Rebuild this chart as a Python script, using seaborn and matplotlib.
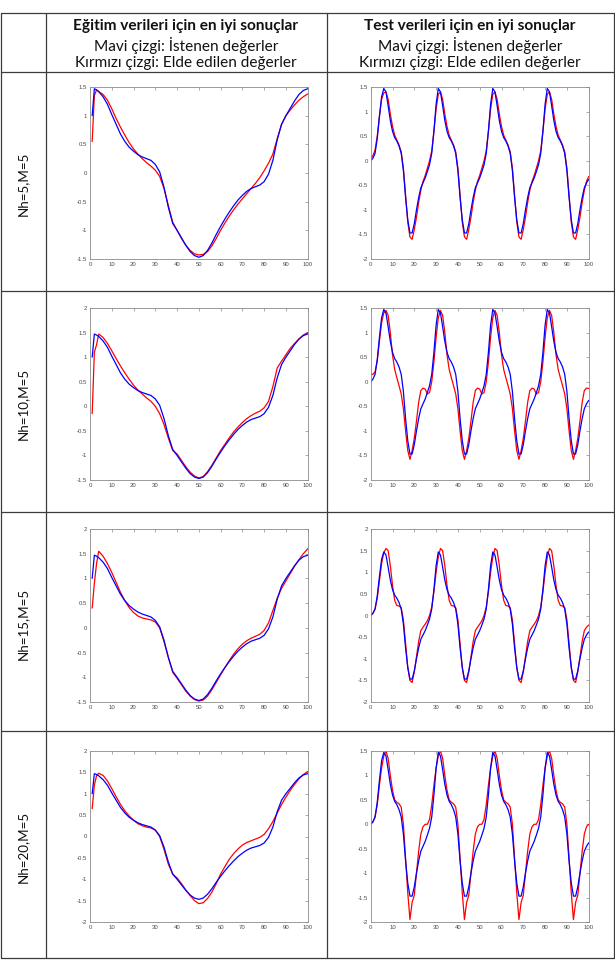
import matplotlib
matplotlib.use("Agg")
import matplotlib.pyplot as plt
from matplotlib.lines import Line2D
from matplotlib.ticker import MultipleLocator, FuncFormatter
import seaborn as sns

sns.set_style("white")
plt.rcParams['font.family'] = ['Lato', 'DejaVu Sans']

# ---------------- data ----------------
HEADER_LEFT = ["Eğitim verileri için en iyi sonuçlar",
               "Mavi çizgi: İstenen değerler",
               "Kırmızı çizgi: Elde edilen değerler"]
HEADER_RIGHT = ["Test verileri için en iyi sonuçlar",
                "Mavi çizgi: İstenen değerler",
                "Kırmızı çizgi: Elde edilen değerler"]
ROW_LABELS = ["Nh=5,M=5", "Nh=10,M=5", "Nh=15,M=5", "Nh=20,M=5"]

TRAIN_X = [1, 2, 3, 4, 6, 8, 10, 12, 14, 16, 18, 20, 22, 24, 26, 28, 30, 32, 34, 36,
           38, 40, 42, 44, 46, 48, 50, 52, 54, 56, 58, 60, 62, 64, 66, 68, 70, 72, 74,
           76, 78, 80, 82, 84, 86, 88, 90, 92, 94, 96, 98, 100]

TRAIN_TARGET = [1.0, 1.47, 1.45, 1.42, 1.33, 1.2, 1.02, 0.85, 0.68, 0.55, 0.45, 0.38,
                0.32, 0.28, 0.25, 0.22, 0.15, 0.02, -0.25, -0.6, -0.88, -1.0, -1.13,
                -1.26, -1.37, -1.44, -1.47, -1.44, -1.35, -1.22, -1.07, -0.93, -0.8,
                -0.68, -0.57, -0.47, -0.39, -0.32, -0.27, -0.24, -0.21, -0.15, -0.02,
                0.22, 0.58, 0.85, 1.0, 1.13, 1.26, 1.37, 1.44, 1.47]

TRAIN_N5 = [0.55, 1.35, 1.45, 1.42, 1.37, 1.27, 1.12, 0.95, 0.8, 0.66, 0.53, 0.42,
            0.33, 0.25, 0.18, 0.12, 0.05, -0.06, -0.27, -0.57, -0.86, -1.0, -1.14,
            -1.26, -1.35, -1.41, -1.43, -1.42, -1.37, -1.27, -1.14, -1.0, -0.87,
            -0.75, -0.64, -0.54, -0.45, -0.36, -0.27, -0.18, -0.08, 0.04, 0.17,
            0.33, 0.6, 0.85, 1.0, 1.1, 1.19, 1.27, 1.33, 1.38]

TRAIN_N10 = [-0.15, 1.1, 1.25, 1.47, 1.4, 1.28, 1.13, 0.97, 0.82, 0.68, 0.55, 0.43,
             0.33, 0.25, 0.17, 0.1, 0.0, -0.15, -0.37, -0.65, -0.9, -0.97, -1.1,
             -1.23, -1.34, -1.42, -1.46, -1.43, -1.33, -1.2, -1.05, -0.9, -0.77,
             -0.64, -0.52, -0.42, -0.33, -0.25, -0.19, -0.14, -0.1, -0.03, 0.1,
             0.4, 0.78, 0.92, 1.05, 1.18, 1.28, 1.37, 1.45, 1.5]

TRAIN_N15 = [0.4, 0.9, 1.3, 1.55, 1.45, 1.3, 1.12, 0.92, 0.72, 0.55, 0.41, 0.31,
             0.24, 0.2, 0.18, 0.16, 0.12, 0.0, -0.28, -0.6, -0.9, -1.02, -1.15,
             -1.28, -1.38, -1.45, -1.48, -1.46, -1.38, -1.25, -1.1, -0.95, -0.8,
             -0.66, -0.53, -0.42, -0.33, -0.26, -0.21, -0.17, -0.13, -0.05, 0.1,
             0.35, 0.6, 0.8, 0.95, 1.1, 1.25, 1.38, 1.5, 1.6]

TRAIN_N20 = [0.65, 1.2, 1.42, 1.48, 1.43, 1.3, 1.12, 0.93, 0.75, 0.6, 0.48, 0.38,
             0.3, 0.25, 0.22, 0.2, 0.15, 0.0, -0.3, -0.65, -0.88, -0.97, -1.1,
             -1.25, -1.38, -1.5, -1.57, -1.55, -1.45, -1.3, -1.1, -0.88, -0.7,
             -0.53, -0.4, -0.29, -0.2, -0.14, -0.1, -0.06, -0.02, 0.05, 0.18,
             0.35, 0.55, 0.75, 0.92, 1.08, 1.22, 1.35, 1.45, 1.52]

TEST_X = list(range(0, 101))

TEST_TARGET = [
    0.0, 0.05, 0.15, 0.45, 0.9, 1.3, 1.47, 1.4, 1.12, 0.82, 0.6, 0.47, 0.4, 0.3, 0.15,
    -0.2, -0.75, -1.2, -1.47, -1.47, -1.28, -1.0, -0.75, -0.55, -0.45,
    -0.35, -0.22, -0.08, 0.15, 0.6, 1.15, 1.47, 1.4, 1.12, 0.82, 0.6, 0.47, 0.4, 0.3, 0.15,
    -0.2, -0.75, -1.2, -1.47, -1.47, -1.28, -1.0, -0.75, -0.55, -0.45,
    -0.35, -0.22, -0.08, 0.15, 0.6, 1.15, 1.47, 1.4, 1.12, 0.82, 0.6, 0.47, 0.4, 0.3, 0.15,
    -0.2, -0.75, -1.2, -1.47, -1.47, -1.28, -1.0, -0.75, -0.55, -0.45,
    -0.35, -0.22, -0.08, 0.15, 0.6, 1.15, 1.47, 1.4, 1.12, 0.82, 0.6, 0.47, 0.4, 0.3, 0.15,
    -0.2, -0.75, -1.2, -1.47, -1.47, -1.28, -1.0, -0.75, -0.55, -0.45,
    -0.38]

TEST_N5 = [
    0.05, 0.1, 0.22, 0.5, 0.9, 1.25, 1.38, 1.4, 1.25, 0.95, 0.7, 0.52, 0.42, 0.32, 0.18,
    -0.15, -0.7, -1.25, -1.55, -1.6, -1.4, -1.15, -0.85, -0.6, -0.42,
    -0.3, -0.15, 0.0, 0.2, 0.6, 1.05, 1.35, 1.4, 1.25, 0.95, 0.7, 0.52, 0.42, 0.32, 0.18,
    -0.15, -0.7, -1.25, -1.55, -1.6, -1.4, -1.15, -0.85, -0.6, -0.42,
    -0.3, -0.15, 0.0, 0.2, 0.6, 1.05, 1.35, 1.4, 1.25, 0.95, 0.7, 0.52, 0.42, 0.32, 0.18,
    -0.15, -0.7, -1.25, -1.55, -1.6, -1.4, -1.15, -0.85, -0.6, -0.42,
    -0.3, -0.15, 0.0, 0.2, 0.6, 1.05, 1.35, 1.4, 1.25, 0.95, 0.7, 0.52, 0.42, 0.32, 0.18,
    -0.15, -0.7, -1.25, -1.55, -1.6, -1.4, -1.15, -0.85, -0.6, -0.42,
    -0.32]

TEST_N10 = [
    0.15, 0.15, 0.2, 0.42, 0.82, 1.2, 1.4, 1.45, 1.35, 1.0, 0.55, 0.25, 0.08, -0.08, -0.25,
    -0.55, -1.0, -1.4, -1.58, -1.4, -1.15, -0.8, -0.42, -0.18, -0.13,
    -0.15, -0.25, -0.22, 0.0, 0.4, 0.9, 1.3, 1.45, 1.35, 1.0, 0.55, 0.25, 0.08, -0.08, -0.25,
    -0.55, -1.0, -1.4, -1.58, -1.4, -1.15, -0.8, -0.42, -0.18, -0.13,
    -0.15, -0.25, -0.22, 0.0, 0.4, 0.9, 1.3, 1.45, 1.35, 1.0, 0.55, 0.25, 0.08, -0.08, -0.25,
    -0.55, -1.0, -1.4, -1.58, -1.4, -1.15, -0.8, -0.42, -0.18, -0.13,
    -0.15, -0.25, -0.22, 0.0, 0.4, 0.9, 1.3, 1.45, 1.35, 1.0, 0.55, 0.25, 0.08, -0.08, -0.25,
    -0.55, -1.0, -1.4, -1.58, -1.4, -1.15, -0.8, -0.42, -0.18, -0.13,
    -0.14]

TEST_N15 = [
    0.0, 0.05, 0.15, 0.4, 0.8, 1.2, 1.45, 1.55, 1.5, 1.15, 0.7, 0.35, 0.23, 0.22, 0.18,
    -0.1, -0.65, -1.2, -1.5, -1.55, -1.3, -0.95, -0.6, -0.35, -0.27,
    -0.2, -0.12, 0.0, 0.2, 0.55, 1.0, 1.35, 1.55, 1.5, 1.15, 0.7, 0.35, 0.23, 0.22, 0.18,
    -0.1, -0.65, -1.2, -1.5, -1.55, -1.3, -0.95, -0.6, -0.35, -0.27,
    -0.2, -0.12, 0.0, 0.2, 0.55, 1.0, 1.35, 1.55, 1.5, 1.15, 0.7, 0.35, 0.23, 0.22, 0.18,
    -0.1, -0.65, -1.2, -1.5, -1.55, -1.3, -0.95, -0.6, -0.35, -0.27,
    -0.2, -0.12, 0.0, 0.2, 0.55, 1.0, 1.35, 1.55, 1.5, 1.15, 0.7, 0.35, 0.23, 0.22, 0.18,
    -0.1, -0.65, -1.2, -1.5, -1.55, -1.3, -0.95, -0.6, -0.35, -0.27,
    -0.22]

TEST_N20 = [
    0.0, 0.05, 0.15, 0.4, 0.8, 1.15, 1.4, 1.5, 1.35, 1.0, 0.7, 0.5, 0.45, 0.42, 0.35,
    0.0, -0.7, -1.4, -1.95, -1.6, -1.45, -1.0, -0.55, -0.2, -0.05,
    0.0, 0.0, 0.1, 0.4, 0.8, 1.15, 1.4, 1.5, 1.35, 1.0, 0.7, 0.5, 0.45, 0.42, 0.35,
    0.0, -0.7, -1.4, -1.95, -1.6, -1.45, -1.0, -0.55, -0.2, -0.05,
    0.0, 0.0, 0.1, 0.4, 0.8, 1.15, 1.4, 1.5, 1.35, 1.0, 0.7, 0.5, 0.45, 0.42, 0.35,
    0.0, -0.7, -1.4, -1.95, -1.6, -1.45, -1.0, -0.55, -0.2, -0.05,
    0.0, 0.0, 0.1, 0.4, 0.8, 1.15, 1.4, 1.5, 1.35, 1.0, 0.7, 0.5, 0.45, 0.42, 0.35,
    0.0, -0.7, -1.4, -1.95, -1.6, -1.45, -1.0, -0.55, -0.2, -0.05,
    0.0]

TRAIN_OUT = [TRAIN_N5, TRAIN_N10, TRAIN_N15, TRAIN_N20]
TEST_OUT = [TEST_N5, TEST_N10, TEST_N15, TEST_N20]
TRAIN_YLIM = [(-1.5, 1.5), (-1.5, 2), (-1.5, 2), (-2, 2)]
TEST_YLIM = [(-2, 1.5), (-2, 1.5), (-2, 2), (-2, 1.5)]

# ---------------- layout ----------------
W, H = 615, 961
fig = plt.figure(figsize=(W / 100, H / 100), dpi=100)


def fx(px):
    return px / W


def fy(py):
    return 1 - py / H


LINE_C = '#3c3c3c'
COL_X = [1, 46, 327, 614]
ROW_Y = [13, 72, 291, 512, 731, 958]
for x in COL_X:
    fig.add_artist(Line2D([fx(x), fx(x)], [fy(ROW_Y[0]), fy(ROW_Y[-1])],
                          transform=fig.transFigure, color=LINE_C, lw=0.9))
for y in ROW_Y:
    fig.add_artist(Line2D([fx(COL_X[0]), fx(COL_X[-1])], [fy(y), fy(y)],
                          transform=fig.transFigure, color=LINE_C, lw=0.9))

renderer = fig.canvas.get_renderer()


def fitted_size(s, target, weight='normal', base=10):
    t = fig.text(0, 0, s, fontsize=base, fontweight=weight)
    bb = t.get_window_extent(renderer=renderer)
    t.remove()
    return base * target / bb.width


head_y = [26, 45, 63]
left_cx, right_cx = 186, 470
widths = [224, 184, 221]
for i in range(3):
    w = 'bold' if i == 0 else 'normal'
    fs = fitted_size(HEADER_LEFT[i], widths[i], weight=w)
    fig.text(fx(left_cx), fy(head_y[i]), HEADER_LEFT[i], ha='center', va='center',
             fontsize=fs, fontweight=w, color='#111111')
    fig.text(fx(right_cx), fy(head_y[i]), HEADER_RIGHT[i], ha='center', va='center',
             fontsize=fs, fontweight=w, color='#111111')

label_fs = fitted_size(ROW_LABELS[1], 72)
for i, lab in enumerate(ROW_LABELS):
    cy = (ROW_Y[i + 1] + ROW_Y[i + 2]) / 2 + 2
    fig.text(fx(23), fy(cy), lab, ha='center', va='center', rotation=90,
             fontsize=label_fs, color='#111111')

AX_TOPS = [87, 308, 529, 751]
AX_BOTS = [259, 480, 702, 922]
LEFT_X = (90, 307.7)
RIGHT_X = (370.7, 588.7)

fmt = FuncFormatter(lambda v, p: f"{v:g}")


def style(ax, ylim):
    ax.set_xlim(0, 100)
    ax.set_ylim(*ylim)
    ax.xaxis.set_major_locator(MultipleLocator(10))
    ax.yaxis.set_major_locator(MultipleLocator(0.5))
    ax.xaxis.set_major_formatter(fmt)
    ax.yaxis.set_major_formatter(fmt)
    ax.tick_params(direction='in', length=2.2, width=0.5, top=True, right=True,
                   labelsize=4.3, labelcolor='#4a4a4a', color='#8a8a8a', pad=2)
    for lab in ax.get_xticklabels() + ax.get_yticklabels():
        lab.set_family('Liberation Sans')
    for sp in ax.spines.values():
        sp.set_color('#8a8a8a')
        sp.set_linewidth(0.6)
    ax.set_xlabel('')
    ax.set_ylabel('')
    ax.grid(False)


for r in range(4):
    b = fy(AX_BOTS[r])
    h = (AX_BOTS[r] - AX_TOPS[r]) / H
    axl = fig.add_axes([fx(LEFT_X[0]), b, fx(LEFT_X[1] - LEFT_X[0]), h])
    sns.lineplot(x=TRAIN_X, y=TRAIN_OUT[r], ax=axl, color='#ff0000', lw=0.9)
    sns.lineplot(x=TRAIN_X, y=TRAIN_TARGET, ax=axl, color='#0000ff', lw=0.9)
    style(axl, TRAIN_YLIM[r])

    axr = fig.add_axes([fx(RIGHT_X[0]), b, fx(RIGHT_X[1] - RIGHT_X[0]), h])
    sns.lineplot(x=TEST_X, y=TEST_OUT[r], ax=axr, color='#ff0000', lw=0.9)
    sns.lineplot(x=TEST_X, y=TEST_TARGET, ax=axr, color='#0000ff', lw=0.9)
    style(axr, TEST_YLIM[r])

fig.savefig("out.png", dpi=100, facecolor='white')
